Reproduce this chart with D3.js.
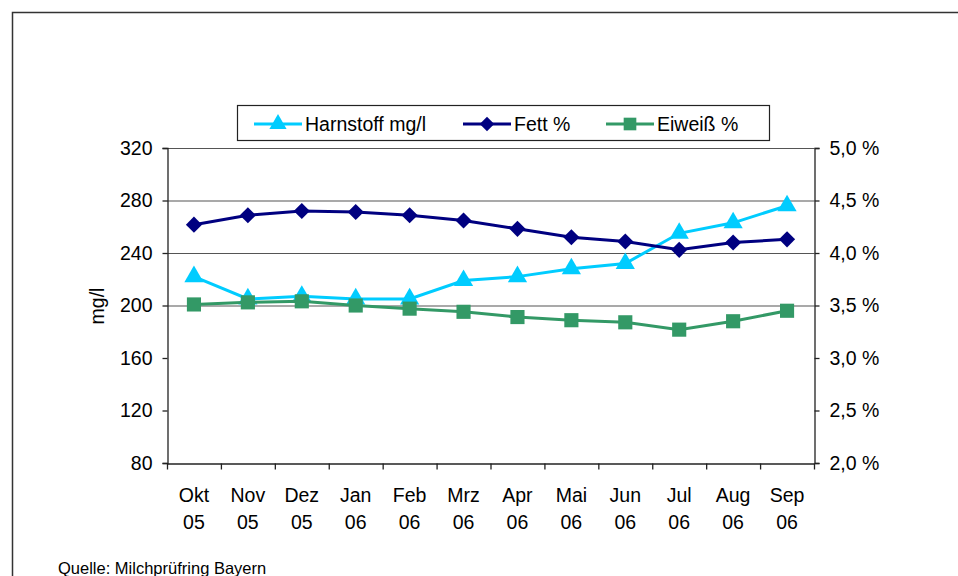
<!DOCTYPE html>
<html>
<head>
<meta charset="utf-8">
<script src="https://cdn.jsdelivr.net/npm/d3@7"></script>
<style>
  body { margin: 0; background: #fff; }
  text { font-family: "Liberation Sans", Arial, sans-serif; fill: #000; }
</style>
</head>
<body>
<div id="chart"></div>
<script>
// months on the x axis (two-line labels)
const months = ["Okt", "Nov", "Dez", "Jan", "Feb", "Mrz", "Apr", "Mai", "Jun", "Jul", "Aug", "Sep"];
const years = ["05", "05", "05", "06", "06", "06", "06", "06", "06", "06", "06", "06"];

// series
const harnstoff = [222, 205, 207, 205, 205, 219, 222, 228, 232, 255, 263, 276]; // mg/l, left axis
const fett = [4.27, 4.36, 4.40, 4.39, 4.36, 4.31, 4.23, 4.15, 4.11, 4.03, 4.10, 4.13]; // %, right axis
const eiweiss = [3.51, 3.53, 3.54, 3.50, 3.47, 3.44, 3.39, 3.36, 3.34, 3.27, 3.35, 3.45]; // %, right axis

// tick values
const leftTicks = [80, 120, 160, 200, 240, 280, 320];
const rightTicks = [2.0, 2.5, 3.0, 3.5, 4.0, 4.5, 5.0];
const gridTicks = [200, 240, 280, 320];

const W = 958, H = 576;
const plotLeft = 167, plotRight = 814, plotTop = 148, plotBottom = 463;
const fs = 19.5;

const svg = d3.select("#chart").append("svg")
  .attr("width", W)
  .attr("height", H);

// outer frame (cut off at right and bottom)
svg.append("path")
  .attr("d", "M12.5," + (H + 5) + "V12.5H" + (W + 5))
  .attr("fill", "none")
  .attr("stroke", "#333")
  .attr("stroke-width", 1.5);

const x = d3.scaleBand().domain(months).range([plotLeft, plotRight]).padding(0);
const yL = d3.scaleLinear().domain([80, 320]).range([plotBottom, plotTop]);
const yR = d3.scaleLinear().domain([2, 5]).range([plotBottom, plotTop]);
const cx = (d, i) => x(months[i]) + x.bandwidth() / 2;

// gridlines
svg.append("g")
  .selectAll("line")
  .data(gridTicks)
  .enter()
  .append("line")
  .attr("x1", plotLeft).attr("x2", plotRight)
  .attr("y1", d => yL(d) + 0.5).attr("y2", d => yL(d) + 0.5)
  .attr("stroke", "#555")
  .attr("stroke-width", 1.2);

// left axis
const gL = svg.append("g")
  .attr("transform", "translate(" + (plotLeft + 0.5) + ",0)")
  .call(d3.axisLeft(yL).tickValues(leftTicks).tickSize(5).tickPadding(10).tickFormat(d3.format("d")));

// right axis
const gR = svg.append("g")
  .attr("transform", "translate(" + (plotRight + 0.5) + ",0)")
  .call(d3.axisRight(yR).tickValues(rightTicks).tickSize(5).tickPadding(10)
    .tickFormat(d => d3.format(".1f")(d).replace(".", ",") + " %"));

// bottom axis
const gX = svg.append("g")
  .attr("transform", "translate(0," + (plotBottom + 0.5) + ")")
  .call(d3.axisBottom(x).tickSize(0).tickPadding(0));
gX.selectAll(".tick text").remove();

[gL, gR, gX].forEach(g => {
  g.select(".domain").attr("stroke", "#222").attr("stroke-width", 1.3);
  g.selectAll(".tick line").attr("stroke", "#222").attr("stroke-width", 1.3);
  g.selectAll("text").attr("font-size", fs).attr("font-family", "Liberation Sans, Arial, sans-serif").attr("fill", "#000");
});

// category boundary ticks
gX.append("g")
  .selectAll("line")
  .data(months.concat(["end"]))
  .enter()
  .append("line")
  .attr("x1", d => (d === "end" ? plotRight : x(d)) + 0.5)
  .attr("x2", d => (d === "end" ? plotRight : x(d)) + 0.5)
  .attr("y1", 0).attr("y2", 6)
  .attr("stroke", "#222")
  .attr("stroke-width", 1.3);

// two-line month labels
const lbl = svg.append("g").selectAll("text")
  .data(months)
  .enter()
  .append("text")
  .attr("text-anchor", "middle")
  .attr("font-size", fs);
lbl.append("tspan")
  .attr("x", (d, i) => cx(d, i))
  .attr("y", 502)
  .text(d => d);
lbl.append("tspan")
  .attr("x", (d, i) => cx(d, i))
  .attr("y", 529)
  .text((d, i) => years[i]);

// y axis title
svg.append("text")
  .attr("transform", "translate(104,306) rotate(-90)")
  .attr("text-anchor", "middle")
  .attr("font-size", fs)
  .text("mg/l");

// series (diamond = square turned by 45 degrees)
const series = [
  { name: "Harnstoff mg/l", values: harnstoff, y: yL, color: "#00CCFF", symbol: d3.symbolTriangle, size: 160, rot: 0 },
  { name: "Fett %", values: fett, y: yR, color: "#000080", symbol: d3.symbolSquare, size: 130, rot: 45 },
  { name: "Eiweiß %", values: eiweiss, y: yR, color: "#339966", symbol: d3.symbolSquare, size: 200, rot: 0 }
];

series.forEach(s => {
  const line = d3.line()
    .x((d, i) => cx(d, i))
    .y(d => s.y(d));
  svg.append("path")
    .datum(s.values)
    .attr("d", line)
    .attr("fill", "none")
    .attr("stroke", s.color)
    .attr("stroke-width", 3);
  svg.append("g")
    .selectAll("path")
    .data(s.values)
    .enter()
    .append("path")
    .attr("transform", (d, i) => "translate(" + cx(d, i) + "," + s.y(d) + ") rotate(" + s.rot + ")")
    .attr("d", d3.symbol().type(s.symbol).size(s.size))
    .attr("fill", s.color);
});

// legend
const legend = svg.append("g");
legend.append("rect")
  .attr("x", 237.5).attr("y", 105.5)
  .attr("width", 532).attr("height", 35)
  .attr("fill", "#fff")
  .attr("stroke", "#222")
  .attr("stroke-width", 1.2);
const legendX = [254, 463, 606];
series.forEach((s, i) => {
  const g = legend.append("g").attr("transform", "translate(" + legendX[i] + ",124)");
  g.append("line").attr("x1", 0).attr("x2", 48).attr("stroke", s.color).attr("stroke-width", 3);
  g.append("path")
    .attr("transform", "translate(24,0) rotate(" + s.rot + ")")
    .attr("d", d3.symbol().type(s.symbol).size(s.size * 0.8))
    .attr("fill", s.color);
  g.append("text")
    .attr("x", 51).attr("y", 7)
    .attr("font-size", fs)
    .text(s.name);
});

// source
svg.append("text")
  .attr("x", 58).attr("y", 574)
  .attr("font-size", 16.5)
  .text("Quelle: Milchprüfring Bayern");
</script>
</body>
</html>
